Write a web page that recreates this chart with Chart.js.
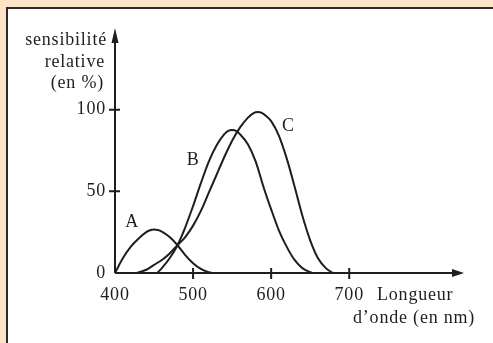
<!DOCTYPE html>
<html lang="fr">
<head>
    <meta charset="UTF-8">
    <title>Sensibilité relative</title>
    <style>
        body {
            margin: 0;
            width: 493px;
            height: 343px;
            overflow: hidden;
            background: #fde3c7;
        }
        .frame {
            position: absolute;
            left: 6px;
            top: 7px;
            right: 0;
            bottom: 0;
            background: #fff;
            border-left: 2px solid #2a2a2a;
            border-top: 2px solid #2a2a2a;
        }
        canvas {
            position: absolute;
            left: 0;
            top: 0;
        }
    </style>
    <script src="https://cdn.jsdelivr.net/npm/chart.js"></script>
</head>
<body>

<div class="frame"></div>
<canvas id="chart" width="493" height="343"></canvas>

<script>
    // courbe A
    const nmA   = [400, 410, 420, 430, 440, 445, 450, 455, 460, 470, 480, 490, 500, 510, 520, 525];
    const sensA = [0,   9,   16,  21,  25,  26.2, 26.6, 26.3, 25.3, 22, 17,  11,  6,   2.5, 0.5, 0];
    // courbe B
    const nmB   = [454, 460, 470, 480, 490, 500, 510, 520, 530, 540, 545, 550, 555, 560, 570, 580, 590, 600, 610, 620, 630, 640, 650, 653];
    const sensB = [0,   3,   9,   17,  28,  41,  55,  68,  78,  85,  87,  87.5, 87, 85,  79,  68.5, 53, 39,  26,  16,  8,   3,   0.5, 0];
    // courbe C
    const nmC   = [428, 440, 450, 460, 470, 480, 490, 500, 510, 520, 530, 540, 550, 560, 570, 577, 583, 588, 595, 600, 610, 620, 630, 640, 650, 660, 670, 679];
    const sensC = [0,   2,   5,   8,   12,  17,  22,  29,  38,  49,  60,  71,  81,  89,  95,  97.8, 98.5, 98, 95.5, 93, 84, 70,  53,  35,  20,  9,   3,   0];

    const xTicks = [400, 500, 600, 700];
    const yTicks = [0, 50, 100];
    const curveNames = ['A', 'B', 'C'];
    const nameAt = [[422, 31], [500, 69], [622, 90]];

    const ink = '#1e1e1e';
    const font = '18px "Liberation Serif", "DejaVu Serif", serif';

    function pts(xs, ys) {
        return xs.map((x, i) => ({ x: x, y: ys[i] }));
    }

    const axesPlugin = {
        id: 'axes',
        beforeDatasetsDraw(chart) {
            const ctx = chart.ctx;
            const xs = chart.scales.x, ys = chart.scales.y;
            const ox = xs.getPixelForValue(400), oy = ys.getPixelForValue(0);
            const area = chart.chartArea;
            ctx.save();
            ctx.strokeStyle = ink;
            ctx.fillStyle = ink;
            ctx.lineWidth = 2;
            ctx.beginPath();
            ctx.moveTo(ox, oy);
            ctx.lineTo(area.right - 8, oy);
            ctx.moveTo(ox, oy);
            ctx.lineTo(ox, area.top + 8);
            // graduations
            xTicks.slice(1).forEach(v => {
                const p = xs.getPixelForValue(v);
                ctx.moveTo(p, oy - 5);
                ctx.lineTo(p, oy + 6);
            });
            yTicks.slice(1).forEach(v => {
                const p = ys.getPixelForValue(v);
                ctx.moveTo(ox - 6, p);
                ctx.lineTo(ox + 5, p);
            });
            ctx.stroke();
            // flèches
            ctx.beginPath();
            ctx.moveTo(area.right, oy);
            ctx.lineTo(area.right - 12, oy - 4);
            ctx.lineTo(area.right - 12, oy + 4);
            ctx.closePath();
            ctx.moveTo(ox, area.top);
            ctx.lineTo(ox - 3.5, area.top + 15);
            ctx.lineTo(ox + 3.5, area.top + 15);
            ctx.closePath();
            ctx.fill();
            ctx.restore();
        },
        afterDraw(chart) {
            const ctx = chart.ctx;
            const xs = chart.scales.x, ys = chart.scales.y;
            const ox = xs.getPixelForValue(400), oy = ys.getPixelForValue(0);
            ctx.save();
            ctx.fillStyle = ink;
            ctx.font = font;
            ctx.letterSpacing = '0.8px';
            ctx.textBaseline = 'middle';
            ctx.textAlign = 'right';
            yTicks.forEach(v => ctx.fillText(String(v), ox - 9, ys.getPixelForValue(v)));
            ctx.fillText('sensibilité', ox - 8, 40);
            ctx.fillText('relative', ox - 10, 62);
            ctx.fillText('(en %)', ox - 11, 83);
            ctx.textAlign = 'center';
            xTicks.forEach(v => ctx.fillText(String(v), xs.getPixelForValue(v), oy + 22));
            ctx.textAlign = 'left';
            ctx.fillText('Longueur', 377, oy + 22);
            ctx.fillText('d\u2019onde (en nm)', 353, oy + 45);
            ctx.textAlign = 'center';
            curveNames.forEach((n, i) => {
                ctx.fillText(n, xs.getPixelForValue(nameAt[i][0]), ys.getPixelForValue(nameAt[i][1]));
            });
            ctx.restore();
        }
    };

    const lineStyle = {
        borderColor: ink,
        borderWidth: 2,
        pointRadius: 0,
        fill: false,
        cubicInterpolationMode: 'monotone'
    };

    new Chart(document.getElementById('chart'), {
        type: 'line',
        data: {
            datasets: [
                Object.assign({ label: 'A', data: pts(nmA, sensA) }, lineStyle),
                Object.assign({ label: 'B', data: pts(nmB, sensB) }, lineStyle),
                Object.assign({ label: 'C', data: pts(nmC, sensC) }, lineStyle)
            ]
        },
        options: {
            responsive: false,
            devicePixelRatio: 1,
            animation: false,
            layout: { padding: { left: 115, right: 29, top: 28, bottom: 70 } },
            scales: {
                x: { type: 'linear', min: 400, max: 847, display: false },
                y: { type: 'linear', min: 0, max: 150, display: false }
            },
            plugins: {
                legend: { display: false },
                tooltip: { enabled: false }
            }
        },
        plugins: [axesPlugin]
    });
</script>

</body>
</html>
